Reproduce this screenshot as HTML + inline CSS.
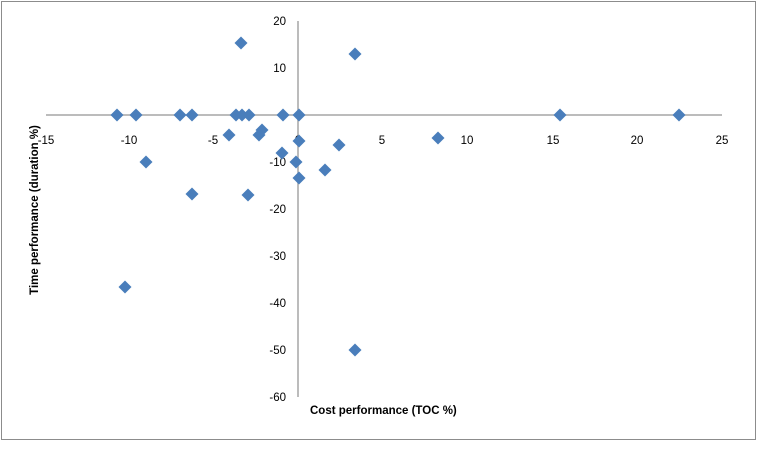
<!DOCTYPE html>
<html><head><style>body{margin:0;background:#fff}</style></head><body>
<svg width="758" height="444" xmlns="http://www.w3.org/2000/svg" font-family="Liberation Sans, sans-serif">
<defs><path id="d" d="M0,-6.5L6.5,0L0,6.5L-6.5,0Z" fill="#4a7ebb"/></defs>
<rect x="1.5" y="1.5" width="754" height="438" fill="#fff" stroke="#8c8c8c"/>
<line x1="46" y1="115" x2="722" y2="115" stroke="#a6a6a6" stroke-width="1.5"/>
<line x1="298" y1="21" x2="298" y2="397" stroke="#a6a6a6" stroke-width="1.5"/>
<g font-size="11.5" fill="#000" text-anchor="middle">
<text x="46" y="144">-15</text><text x="129" y="144">-10</text><text x="213" y="144">-5</text><text x="298" y="144">0</text><text x="382" y="144">5</text><text x="467" y="144">10</text><text x="553" y="144">15</text><text x="637" y="144">20</text><text x="722" y="144">25</text>
</g>
<g font-size="11.5" fill="#000" text-anchor="end">
<text x="286" y="25">20</text><text x="286" y="72">10</text><text x="286" y="119">0</text><text x="286" y="166">-10</text><text x="286" y="213">-20</text><text x="286" y="260">-30</text><text x="286" y="307">-40</text><text x="286" y="354">-50</text><text x="286" y="401">-60</text>
</g>
<text x="310" y="414" font-size="11.5" font-weight="bold">Cost performance (TOC %)</text>
<text transform="translate(38,210) rotate(-90)" font-size="11.5" font-weight="bold" text-anchor="middle">Time performance (duration %)</text>
<g>
<use href="#d" x="117" y="115"/><use href="#d" x="136" y="115"/><use href="#d" x="180" y="115"/><use href="#d" x="192" y="115"/><use href="#d" x="236" y="115"/><use href="#d" x="242" y="115"/><use href="#d" x="249" y="115"/><use href="#d" x="283" y="115"/><use href="#d" x="299" y="115"/><use href="#d" x="560" y="115"/><use href="#d" x="679" y="115"/>
<use href="#d" x="241" y="43"/><use href="#d" x="355" y="54"/>
<use href="#d" x="229" y="135"/><use href="#d" x="262" y="130"/><use href="#d" x="259" y="135"/><use href="#d" x="282" y="153"/><use href="#d" x="299" y="141"/><use href="#d" x="339" y="145"/><use href="#d" x="438" y="138"/>
<use href="#d" x="296" y="162"/><use href="#d" x="325" y="170"/><use href="#d" x="299" y="178"/><use href="#d" x="248" y="195"/><use href="#d" x="146" y="162"/><use href="#d" x="192" y="194"/>
<use href="#d" x="125" y="287"/><use href="#d" x="355" y="350"/>
</g>
</svg>
</body></html>
